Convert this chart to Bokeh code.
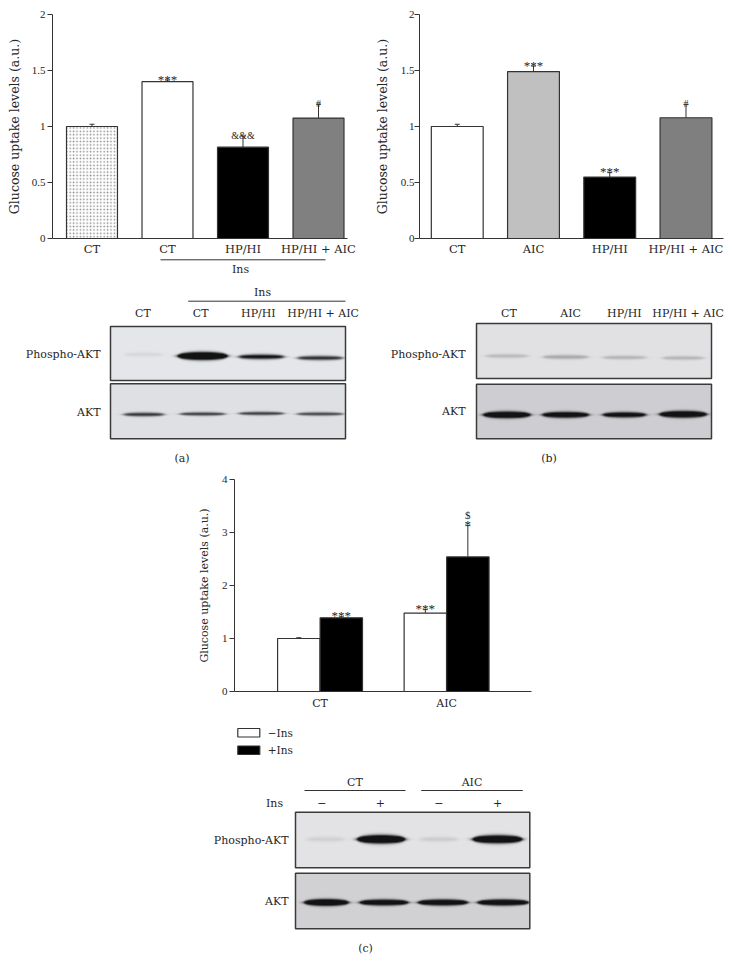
import numpy as np
from bokeh.plotting import figure
from bokeh.models import (Range1d, FixedTicker, Whisker, TeeHead, ColumnDataSource,
                          Spacer, NumeralTickFormatter)
from bokeh.layouts import row, column
from bokeh.core.properties import value
from bokeh.embed import file_html
from bokeh.resources import INLINE

SERIF = "DejaVu Serif"
NUM = "Liberation Serif"
INK = "#262626"

# ---------------- data ----------------
a_labels = ["CT", "CT", "HP/HI", "HP/HI + AIC"]
a_values = [1.00, 1.40, 0.815, 1.075]
a_errors = [0.02, 0.015, 0.10, 0.125]
a_marks = ["", "***", "&&&", "#"]
a_colors = ["white", "white", "black", "#808080"]
a_hatch = [".", " ", " ", " "]

b_labels = ["CT", "AIC", "HP/HI", "HP/HI + AIC"]
b_values = [1.00, 1.49, 0.548, 1.078]
b_errors = [0.02, 0.05, 0.04, 0.12]
b_marks = ["", "***", "***", "#"]
b_colors = ["white", "#c0c0c0", "black", "#7f7f7f"]

c_groups = ["CT", "AIC"]
c_series = ["\u2212Ins", "+Ins"]
c_series_colors = ["white", "black"]
c_minus = [1.00, 1.48]
c_minus_err = [0.015, 0.065]
c_minus_marks = ["", "***"]
c_plus = [1.39, 2.54]
c_plus_err = [0.02, 0.59]
c_plus_marks = ["***", "*"]
c_plus_marks2 = ["", "$"]

ab_yticks = [0, 0.5, 1, 1.5, 2]
c_yticks = [0, 1, 2, 3, 4]
ylabel = "Glucose uptake levels (a.u.)"

# western blot band densities (relative darkness per lane)
blotA_lanes = ["CT", "CT", "HP/HI", "HP/HI + AIC"]
blotA_phospho = [0.07, 2.6, 1.1, 0.9]
blotA_akt = [0.85, 0.8, 0.8, 0.75]
blotB_lanes = ["CT", "AIC", "HP/HI", "HP/HI + AIC"]
blotB_phospho = [0.2, 0.28, 0.22, 0.22]
blotB_akt = [2.2, 1.8, 1.6, 2.2]
blotC_ins = ["\u2212", "+", "\u2212", "+"]
blotC_phospho = [0.09, 2.6, 0.11, 2.4]
blotC_akt = [2.3, 1.9, 2.0, 2.1]

MARK_SIZE = {"***": "13px", "*": "13px", "&&&": "10px", "#": "10px", "$": "11px", "": "11px"}


# ---------------- helpers ----------------
def chart(width, height, xr, yr, l, r, t, b):
    p = figure(width=width, height=height, x_range=Range1d(*xr), y_range=Range1d(*yr),
               min_border_left=l, min_border_right=r, min_border_top=t, min_border_bottom=b,
               toolbar_location=None, output_backend="svg")
    p.xgrid.visible = False
    p.ygrid.visible = False
    p.outline_line_color = None
    return p


def style_axes(p, xticks, xlabels, xfs, xstand, yticks, ylab_fs, lab_standoff, ytick_standoff):
    xa = p.xaxis[0]
    xa.ticker = FixedTicker(ticks=list(xticks))
    xa.major_label_overrides = {int(t): s for t, s in zip(xticks, xlabels)}
    xa.major_tick_line_color = None
    xa.minor_tick_line_color = None
    xa.major_tick_out = 0
    xa.major_tick_in = 0
    xa.minor_tick_out = 0
    xa.major_label_standoff = xstand
    xa.major_label_text_font = SERIF
    xa.major_label_text_font_size = xfs
    xa.major_label_text_color = INK
    xa.axis_line_color = "#333333"
    ya = p.yaxis[0]
    ya.ticker = FixedTicker(ticks=yticks)
    ya.formatter = NumeralTickFormatter(format="0.[0]")
    ya.minor_tick_line_color = None
    ya.minor_tick_out = 0
    ya.major_tick_out = 5
    ya.major_tick_in = 0
    ya.major_tick_line_color = "#333333"
    ya.axis_line_color = "#333333"
    ya.major_label_standoff = ytick_standoff
    ya.major_label_text_font = NUM
    ya.major_label_text_font_size = "11px"
    ya.major_label_text_color = INK
    ya.axis_label = ylabel
    ya.axis_label_text_font = SERIF
    ya.axis_label_text_font_size = ylab_fs
    ya.axis_label_text_font_style = "normal"
    ya.axis_label_text_color = INK
    ya.axis_label_standoff = lab_standoff


def add_bars(p, xs, vals, errs, marks, colors, width, hatch=None, marks2=None):
    data = dict(x=list(xs), top=vals, hi=[v + e for v, e in zip(vals, errs)],
                color=colors, mark=marks, msize=[MARK_SIZE[m] for m in marks])
    kw = {}
    if hatch is not None:
        data["hatch"] = hatch
        kw = dict(hatch_pattern="hatch", hatch_color="#8c8c8c", hatch_scale=3.4, hatch_weight=1.0)
    if marks2 is not None:
        data["mark2"] = marks2
    src = ColumnDataSource(data)
    r = p.vbar(x="x", top="top", bottom=0, width=width, source=src, fill_color="color",
               line_color="#333333", line_width=1.2, **kw)
    p.add_layout(Whisker(source=src, base="x", lower="top", upper="hi", lower_head=None,
                         upper_head=TeeHead(size=5, line_color="#333333", line_width=1),
                         line_color="#333333", line_width=1))
    p.text(x="x", y="hi", text="mark", source=src, text_align="center",
           text_baseline="alphabetic", y_offset=-1, text_font=value(NUM),
           text_font_size="msize", text_color=INK)
    if marks2 is not None:
        p.text(x="x", y="hi", text="mark2", source=src, text_align="center",
               text_baseline="alphabetic", y_offset=-11, text_font=value(NUM),
               text_font_size="11px", text_color=INK)
    return r


def blot_fig(x0, x1, y0, y1):
    p = figure(width=int(round(x1 - x0)), height=int(round(y1 - y0)),
               x_range=Range1d(x0, x1), y_range=Range1d(-y1, -y0),
               x_axis_location=None, y_axis_location=None, min_border=0,
               toolbar_location=None, output_backend="svg")
    p.outline_line_color = None
    p.grid.visible = False
    return p


def blot_image(p, x0, x1, y0, y1, bg, centers, cys, widths, thick, dens):
    W = int(round(x1 - x0))
    H = int(round(y1 - y0))
    xs = x0 + np.arange(W) + 0.5
    ys = y0 + np.arange(H) + 0.5
    d = np.zeros((H, W))
    for cx, cy, w, s, k in zip(centers, cys, widths, thick, dens):
        px = 1.0 / (1.0 + np.exp((np.abs(xs - cx) - w / 2.0) / 1.8))
        taper = np.sqrt(np.clip(1 - ((xs - cx) / (w / 2.0 + 5)) ** 2, 0.2, 1))
        sig = s * taper
        d += k * px[None, :] * np.exp(-((ys[:, None] - cy) / sig[None, :]) ** 2)
    d = np.clip(d, 0, 1)
    rgba = np.empty((H, W, 4), dtype=np.uint8)
    for i in range(3):
        rgba[:, :, i] = np.round(bg[i] * (1 - d) + 18 * d).astype(np.uint8)
    rgba[:, :, 3] = 255
    img = np.flipud(rgba.view(np.uint32).reshape(H, W))
    p.image_rgba(image=[img], x=x0, y=-y1, dw=x1 - x0, dh=y1 - y0)
    p.quad(left=[x0], right=[x1], top=[-y0], bottom=[-y1], fill_color=None,
           line_color="#3a3a3a", line_width=1.5)


def txt(p, xs, ys, texts, align="center", size="11px", font=SERIF):
    p.text(x=list(xs), y=[-y for y in ys], text=list(texts), text_align=align,
           text_baseline="middle", text_font=value(font), text_font_size=size,
           text_color=INK)


def lane_centers(x0, x1, n, shift):
    pitch = (x1 - x0) / n
    return [x0 + (i + 0.5) * pitch + shift for i in range(n)]


# ---------------- chart (a) ----------------
pa = chart(370, 258, (-0.523, 3.384), (0, 2), 52, 23, 14, 20)
style_axes(pa, range(len(a_labels)), a_labels, "11.5px", 3, ab_yticks, "12.5px", 7, 2)
add_bars(pa, range(len(a_labels)), a_values, a_errors, a_marks, a_colors, 0.675, hatch=a_hatch)

# ---------------- chart (b) ----------------
pb = chart(354, 258, (-0.495, 3.492), (0, 2), 49, 1, 13, 20)
style_axes(pb, range(len(b_labels)), b_labels, "11.5px", 3, ab_yticks, "12.5px", 8, 0)
add_bars(pb, range(len(b_labels)), b_values, b_errors, b_marks, b_colors, 0.68)

# ---------------- blot (a) ----------------
ba = blot_fig(0, 370, 258, 466)
ba.segment(x0=[160], y0=[-259.3], x1=[325], y1=[-259.3], line_color="#333333", line_width=1)
txt(ba, [240], [268.5], ["Ins"])
ba.segment(x0=[187.7], y0=[-300.7], x1=[345], y1=[-300.7], line_color="#333333", line_width=1)
txt(ba, [262], [291.8], ["Ins"])
la = lane_centers(110, 345, 4, 4)
txt(ba, [la[0] - 1, la[1] - 2, la[2] - 3, la[3] + 3], [313.3] * 4, blotA_lanes)
blot_image(ba, 110, 345, 326, 380, (229, 230, 234), la, [354, 355.5, 356.3, 357.5],
           [38, 47, 45, 45], [2.2, 3.2, 2.4, 2.2], blotA_phospho)
blot_image(ba, 110, 345, 383.3, 438.3, (223, 224, 228), la, [414, 413.5, 413, 413.5],
           [40, 45, 45, 46], [2.0, 1.8, 1.8, 1.8], blotA_akt)
txt(ba, [100, 100], [354, 412], ["Phospho-AKT", "AKT"], align="right")
txt(ba, [181.5], [457.5], ["(a)"])

# ---------------- blot (b) ----------------
bb = blot_fig(370, 724, 258, 466)
lb = lane_centers(476, 711, 4, 1)
txt(bb, [lb[0] + 2, lb[1] + 5, lb[2], lb[3] + 5], [313] * 4, blotB_lanes)
blot_image(bb, 476, 711, 323, 378, (225, 225, 228), lb, [355.5, 356.5, 357, 357.5],
           [42, 45, 43, 41], [2.0, 2.2, 2.0, 2.0], blotB_phospho)
blot_image(bb, 476, 711, 383.7, 438.3, (206, 206, 210), lb, [415, 415, 415, 414.5],
           [45, 45, 42, 45], [2.8, 2.6, 2.4, 2.8], blotB_akt)
txt(bb, [465, 465], [354, 411], ["Phospho-AKT", "AKT"], align="right")
txt(bb, [548.5], [457.5], ["(b)"])

# ---------------- chart (c) ----------------
pc = chart(360, 246, (-0.676, 1.671), (0, 4), 54, 9, 13, 20)
style_axes(pc, range(len(c_groups)), c_groups, "11px", 5, c_yticks, "11px", 8, 2)
cx = np.arange(len(c_groups))
add_bars(pc, cx - 0.168, c_minus, c_minus_err, c_minus_marks, [c_series_colors[0]] * 2, 0.335)
add_bars(pc, cx + 0.168, c_plus, c_plus_err, c_plus_marks, [c_series_colors[1]] * 2, 0.335,
         marks2=c_plus_marks2)

# ---------------- legend of (c) + blot (c) ----------------
bc = blot_fig(180, 540, 712, 961)
leg_top = [728.0, 745.5]
bc.quad(left=[237.3] * 2, right=[259.3] * 2, top=[-t for t in leg_top],
        bottom=[-(t + 8.5) for t in leg_top], fill_color=c_series_colors,
        line_color="#333333", line_width=1.2)
txt(bc, [267.3] * 2, [t + 4.2 for t in leg_top], c_series, align="left", size="10.5px")

bc.segment(x0=[304, 420.7], y0=[-790, -790], x1=[405, 522.3], y1=[-790, -790],
           line_color="#333333", line_width=1)
txt(bc, [354.5, 471.5], [781.7, 781.7], c_groups)
lc = lane_centers(295, 529.3, 4, 0)
txt(bc, [274], [802.7], ["Ins"])
txt(bc, [v - 3 for v in lc], [802.7] * 4, blotC_ins)
blot_image(bc, 295, 529.3, 811.7, 867.3, (227, 227, 230), [325, 380.5, 438.3, 496.7],
           [839.5] * 4, [37, 45, 37, 47], [2.5, 3.4, 2.5, 3.3], blotC_phospho)
blot_image(bc, 295, 529.3, 872.7, 928.3, (209, 209, 212), [325.8, 383.3, 442.2, 502.3],
           [902.7] * 4, [42, 47, 48, 49], [2.8, 2.6, 2.6, 2.6], blotC_akt)
txt(bc, [288, 288], [839.5, 900.8], ["Phospho-AKT", "AKT"], align="right")
txt(bc, [365], [948], ["(c)"])

layout = column(
    row(pa, pb),
    row(ba, bb),
    row(Spacer(width=180, height=246), pc),
    row(Spacer(width=180, height=249), bc),
)

open("out.html", "w").write(file_html(layout, INLINE))
